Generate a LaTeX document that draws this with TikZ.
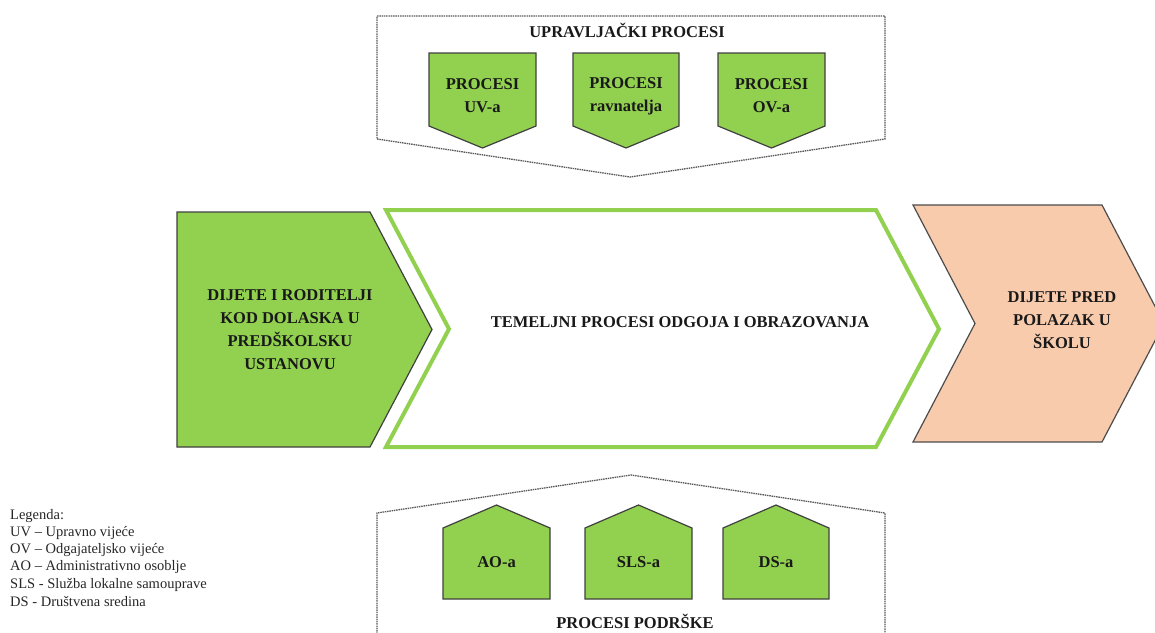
\documentclass[tikz,border=0pt]{standalone}
\usepackage{fontspec}
\setmainfont{Liberation Serif}
\definecolor{procgreen}{HTML}{92D050}
\definecolor{exitpeach}{HTML}{F8CBAD}
\tikzset{
  procbox/.style={fill=procgreen, draw=black!75, line width=1.2pt, line join=miter},
  envelope/.style={draw=black!65, line width=1.3pt, dash pattern=on 1.5pt off 0.8pt},
  boxtext/.style={font=\fontsize{16.5}{23}\selectfont\bfseries, align=center, text=black!90, inner sep=0pt},
  legendtext/.style={font=\fontsize{14.5}{17}\selectfont, anchor=west, inner sep=0pt, text=black!85}
}
\begin{document}
\begin{tikzpicture}[x=1pt,y=-1pt]
      \useasboundingbox (0,0) rectangle (1155,632);
      \clip (0,0) rectangle (1155,632);
      % upravljacki procesi
      \draw[envelope] (377,16) -- (885,16) -- (885,139) -- (630,177) -- (377,139) -- cycle;
      \node[boxtext] (upr) at (627,30) {UPRAVLJAČKI PROCESI};
      \draw[procbox] (429,53) -- (536,53) -- (536,126) -- (482.5,148) -- (429,126) -- cycle;
      \draw[procbox] (573,53) -- (679,53) -- (679,126) -- (626,148) -- (573,126) -- cycle;
      \draw[procbox] (718,53) -- (825,53) -- (825,126) -- (771.5,148) -- (718,126) -- cycle;
      \node[boxtext] (uv) at (482.5,96) {PROCESI\\UV-a};
      \node[boxtext] (rav) at (626,96) {PROCESI\\ravnatelja};
      \node[boxtext] (ov) at (771.5,96) {PROCESI\\OV-a};
      % temeljni procesi
      \draw[procbox] (177,212) -- (370,212) -- (432,329.5) -- (370,447) -- (177,447) -- cycle;
      \draw[draw=procgreen, line width=4pt] (386,210) -- (876,210) -- (939,329) -- (876,447)
        -- (386,447) -- (449,329) -- cycle;
      \draw[fill=exitpeach, draw=black!70, line width=1.2pt] (913,205) -- (1102,205) -- (1164,323.5)
        -- (1102,442) -- (913,442) -- (975,323.5) -- cycle;
      \node[boxtext] (ulaz) at (290,330) {DIJETE I RODITELJI\\KOD DOLASKA U\\PREDŠKOLSKU\\USTANOVU};
      \node[boxtext] (tem) at (680,322) {TEMELJNI PROCESI ODGOJA I OBRAZOVANJA};
      \node[boxtext] (izlaz) at (1062,320) {DIJETE PRED\\POLAZAK U\\ŠKOLU};
      % procesi podrske
      \draw[envelope] (377,650) -- (377,513) -- (631,475) -- (885,513) -- (885,650);
      \draw[procbox] (443,528) -- (496.5,505) -- (550,528) -- (550,599) -- (443,599) -- cycle;
      \draw[procbox] (585,528) -- (638.5,505) -- (692,528) -- (692,599) -- (585,599) -- cycle;
      \draw[procbox] (723,528) -- (776,505) -- (829,528) -- (829,599) -- (723,599) -- cycle;
      \node[boxtext] (ao) at (496.5,562) {AO-a};
      \node[boxtext] (sls) at (638.5,562) {SLS-a};
      \node[boxtext] (ds) at (776,562) {DS-a};
      \node[boxtext] (pod) at (635,621) {PROCESI PODRŠKE};
      % legenda
      \node[legendtext] (leg0) at (10,516) {Legenda:};
      \node[legendtext] (leg1) at (10,533) {UV -- Upravno vijeće};
      \node[legendtext] (leg2) at (10,550) {OV -- Odgajateljsko vijeće};
      \node[legendtext] (leg3) at (10,567) {AO -- Administrativno osoblje};
      \node[legendtext] (leg4) at (10,585) {SLS - Služba lokalne samouprave};
      \node[legendtext] (leg5) at (10,602) {DS - Društvena sredina};
    \end{tikzpicture}
\end{document}
